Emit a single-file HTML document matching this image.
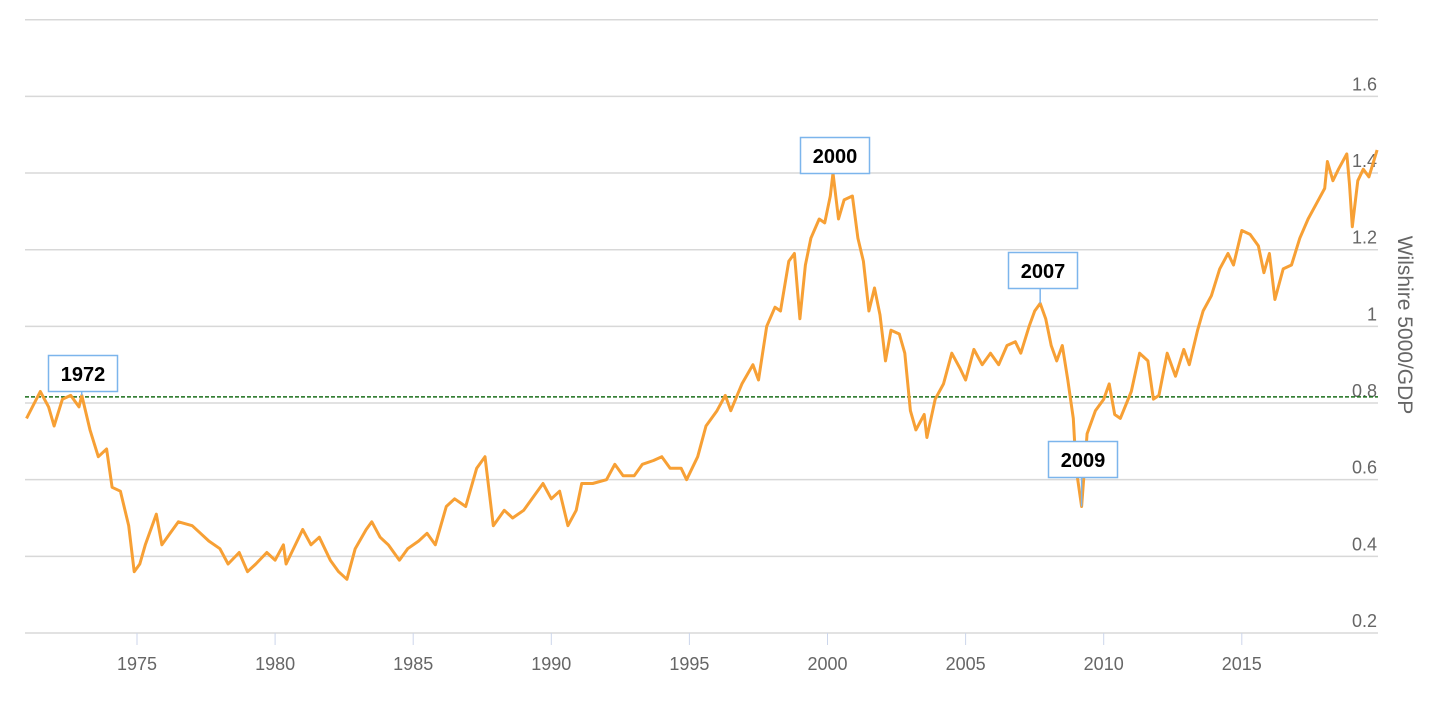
<!DOCTYPE html>
<html><head><meta charset="utf-8"><style>
body{margin:0;background:#fff;font-family:"Liberation Sans",sans-serif;}
svg text{font-family:"Liberation Sans",sans-serif;}
</style></head><body>
<svg id="chart" width="1436" height="706" xmlns="http://www.w3.org/2000/svg">
<g id="grid"></g><g id="xaxis"></g><g id="yaxis"></g><g id="plot"></g><g id="notes"></g>
<text transform="translate(1398,325) rotate(90)" text-anchor="middle" font-size="21" fill="#666">Wilshire 5000/GDP</text>
</svg>
<script>
const years=[1971.0,1971.5,1971.8,1972.0,1972.3,1972.6,1972.9,1973.0,1973.3,1973.6,1973.9,1974.1,1974.4,1974.7,1974.9,1975.1,1975.3,1975.5,1975.7,1975.9,1976.2,1976.5,1977.0,1977.3,1977.6,1978.0,1978.3,1978.7,1979.0,1979.3,1979.7,1980.0,1980.3,1980.4,1981.0,1981.3,1981.6,1982.0,1982.3,1982.6,1982.9,1983.3,1983.5,1983.8,1984.1,1984.5,1984.8,1985.2,1985.5,1985.8,1986.2,1986.5,1986.9,1987.3,1987.6,1987.9,1988.3,1988.6,1989.0,1989.4,1989.7,1990.0,1990.3,1990.6,1990.9,1991.1,1991.5,1992.0,1992.3,1992.6,1993.0,1993.3,1993.7,1994.0,1994.3,1994.7,1994.9,1995.3,1995.6,1996.0,1996.3,1996.5,1996.9,1997.3,1997.5,1997.8,1998.1,1998.3,1998.6,1998.8,1999.0,1999.2,1999.4,1999.7,1999.9,2000.1,2000.2,2000.4,2000.6,2000.9,2001.1,2001.3,2001.5,2001.7,2001.9,2002.1,2002.3,2002.6,2002.8,2003.0,2003.2,2003.5,2003.6,2003.9,2004.2,2004.5,2004.8,2005.0,2005.3,2005.6,2005.9,2006.2,2006.5,2006.8,2007.0,2007.3,2007.5,2007.7,2007.9,2008.1,2008.3,2008.5,2008.7,2008.9,2009.0,2009.2,2009.4,2009.7,2010.0,2010.2,2010.4,2010.6,2011.0,2011.3,2011.6,2011.8,2012.0,2012.3,2012.6,2012.9,2013.1,2013.4,2013.6,2013.9,2014.2,2014.5,2014.7,2015.0,2015.3,2015.6,2015.8,2016.0,2016.2,2016.5,2016.8,2017.1,2017.4,2017.7,2018.0,2018.1,2018.3,2018.5,2018.8,2018.9,2019.0,2019.2,2019.4,2019.6,2019.9];
const ratio=[0.76,0.83,0.79,0.74,0.81,0.82,0.79,0.82,0.73,0.66,0.68,0.58,0.57,0.48,0.36,0.38,0.43,0.47,0.51,0.43,0.46,0.49,0.48,0.46,0.44,0.42,0.38,0.41,0.36,0.38,0.41,0.39,0.43,0.38,0.47,0.43,0.45,0.39,0.36,0.34,0.42,0.47,0.49,0.45,0.43,0.39,0.42,0.44,0.46,0.43,0.53,0.55,0.53,0.63,0.66,0.48,0.52,0.50,0.52,0.56,0.59,0.55,0.57,0.48,0.52,0.59,0.59,0.60,0.64,0.61,0.61,0.64,0.65,0.66,0.63,0.63,0.60,0.66,0.74,0.78,0.82,0.78,0.85,0.90,0.86,1.00,1.05,1.04,1.17,1.19,1.02,1.16,1.23,1.28,1.27,1.34,1.40,1.28,1.33,1.34,1.23,1.17,1.04,1.10,1.03,0.91,0.99,0.98,0.93,0.78,0.73,0.77,0.71,0.81,0.85,0.93,0.89,0.86,0.94,0.90,0.93,0.90,0.95,0.96,0.93,1.00,1.04,1.06,1.02,0.95,0.91,0.95,0.86,0.76,0.63,0.53,0.72,0.78,0.81,0.85,0.77,0.76,0.83,0.93,0.91,0.81,0.82,0.93,0.87,0.94,0.90,0.99,1.04,1.08,1.15,1.19,1.16,1.25,1.24,1.21,1.14,1.19,1.07,1.15,1.16,1.23,1.28,1.32,1.36,1.43,1.38,1.41,1.45,1.37,1.26,1.38,1.41,1.39,1.46];
const yTicks=[0.2,0.4,0.6,0.8,1,1.2,1.4,1.6,1.8];
const xTicks=[1975,1980,1985,1990,1995,2000,2005,2010,2015];
const mean=[0.816];
const notes=[{label:"1972",year:1973.0,value:0.82,bx:48,by:355},{label:"2000",year:2000.2,value:1.40,bx:800,by:137},{label:"2007",year:2007.7,value:1.06,bx:1008,by:252},{label:"2009",year:2009.2,value:0.53,bx:1048,by:441}];
const X=y=>137+(y-1975)*27.62;
const Y=v=>633-(v-0.2)*383.3;
const NS="http://www.w3.org/2000/svg";
function mk(p,t,a){const e=document.createElementNS(NS,t);for(const k in a)e.setAttribute(k,a[k]);p.appendChild(e);return e;}
const grid=document.getElementById('grid'),ya=document.getElementById('yaxis'),xa=document.getElementById('xaxis'),plot=document.getElementById('plot'),nt=document.getElementById('notes');
yTicks.forEach(v=>{const l=mk(grid,'line',{x1:25,x2:1378,y1:Y(v),y2:Y(v),stroke:'#d8d8d8','stroke-width':1.5});


if(v<1.8){const t=mk(ya,'text',{x:1377,y:Y(v)-6,'text-anchor':'end','font-size':18,fill:'#666'});t.textContent=String(v);

}});
xTicks.forEach(y=>{const t=mk(xa,'text',{x:X(y),y:670,'text-anchor':'middle','font-size':18,fill:'#666'});t.textContent=y;


const k=mk(xa,'line',{x1:X(y),x2:X(y),y1:633,y2:645,stroke:'#ccd6eb','stroke-width':1});

});
const ml=mk(plot,'line',{x1:25,x2:1378,y1:Y(mean[0]),y2:Y(mean[0]),stroke:'#1a6e1a','stroke-width':1.5,'stroke-dasharray':'4,2'});


const pts=years.map((y,i)=>X(y).toFixed(1)+','+Y(ratio[i]).toFixed(1)).join(' ');
const pl=mk(plot,'polyline',{points:pts,fill:'none',stroke:'#f7a035','stroke-width':3,'stroke-linejoin':'round'});


notes.forEach(n=>{const px=X(n.year),py=Y(n.value);const below=n.by+37<py;
const c=mk(nt,'line',{x1:px,y1:py,x2:px,y2:below?n.by+37:n.by,stroke:'#7cb5ec','stroke-width':1.5});


const r=mk(nt,'rect',{x:n.bx+0.5,y:n.by+0.5,width:69,height:36,fill:'#fff',stroke:'#7cb5ec','stroke-width':1.5});


const t=mk(nt,'text',{x:n.bx+35,y:n.by+26,'text-anchor':'middle','font-size':20,'font-weight':'bold',fill:'#000'});t.textContent=n.label;

});
</script>
</body></html>
